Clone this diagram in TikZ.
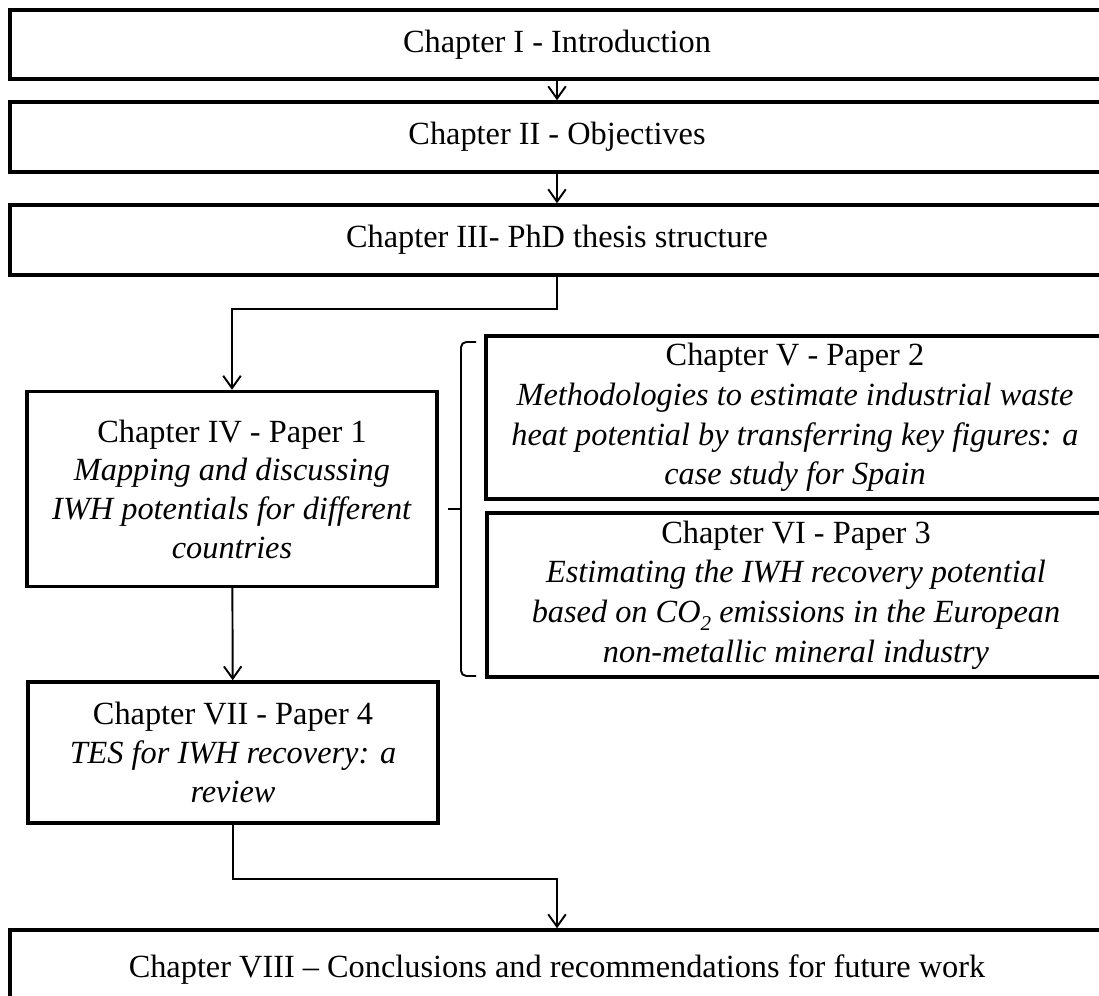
\documentclass[tikz,border=0pt]{standalone}
\usepackage{fontspec}
\setmainfont{Liberation Serif}
\usepackage{tikz}
\usetikzlibrary{positioning,arrows.meta,calc}

\begin{document}
\begin{tikzpicture}[x=0.02cm, y=-0.02cm, >={Straight Barb[length=7pt,width=10pt]},
    every node/.style={font=\fontsize{18.4}{22}\selectfont, align=center},
    chap/.style={draw, line width=2pt, inner sep=0pt},
    wide/.style={font=\fontsize{18.4}{22.6}\selectfont},
    link/.style={->, line width=1.1pt}]
  \def\fw{21.88cm}
  \def\sw{8.2cm}

  \useasboundingbox (0,0) rectangle (1099,996);
  \clip (0,0) rectangle (1099,996);

  \node[chap, minimum width=\fw, minimum height=1.39cm] (intro)
      at (557,44.5) {Chapter I - Introduction};
  \node[chap, minimum width=\fw, minimum height=1.4cm] (obj)
      at (557,137) {Chapter II - Objectives};
  \node[chap, minimum width=\fw, minimum height=1.4cm] (struct)
      at (557,240) {Chapter III- PhD thesis structure};

  \node[chap, minimum width=\sw, minimum height=3.9cm] (p1)
      at (232,489) {Chapter IV - Paper 1\\\textit{Mapping and discussing}\\\textit{IWH potentials for different}\\\textit{countries}};
  \node[chap, wide, minimum width=12.36cm, minimum height=3.26cm] (p2)
      at (795,417.5) {Chapter V - Paper 2\\\textit{Methodologies to estimate industrial waste}\\\textit{heat potential by transferring key figures: a}\\\textit{case study for Spain}};
  \node[chap, wide, minimum width=12.36cm, minimum height=3.28cm] (p3)
      at (796,595) {Chapter VI - Paper 3\\\textit{Estimating the IWH recovery potential}\\\textit{based on CO\raisebox{-0.55ex}{\fontsize{12}{12}\selectfont 2} emissions in the European}\\\textit{non-metallic mineral industry}};
  \node[chap, minimum width=\sw, minimum height=2.82cm] (p4)
      at (233,752.5) {Chapter VII - Paper 4\\\textit{TES for IWH recovery: a}\\\textit{review}};
  \node[chap, minimum width=\fw, minimum height=1.6cm] (concl)
      at (557,970) {Chapter VIII -- Conclusions and recommendations for future work};

  \draw[link] (intro) -- (obj);
  \draw[link] (obj) -- (struct);
  \draw[link] (struct.south) -- ++(0,32) -| (p1.north);
  \draw[link] (p1) -- (p4);
  \draw[link] (p4.south) -- ++(0,54) -| (concl.north);

  % bracket grouping papers 2 and 3
  \draw[line width=1.1pt, rounded corners=3pt]
      (476,342) -- (461,342) -- (461,676) -- (476,676);
  \draw[line width=1.1pt] (461,509) -- (448,509);
\end{tikzpicture}
\end{document}
